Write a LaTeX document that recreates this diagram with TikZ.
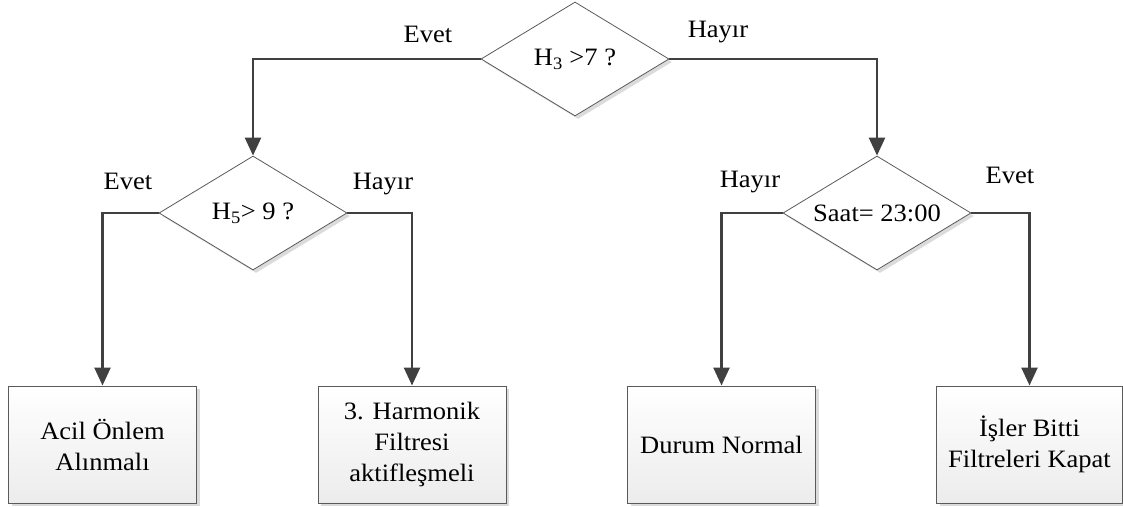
\documentclass[tikz,border=0pt]{standalone}
\usepackage{fontspec}
\setmainfont{Liberation Serif}[FakeStretch=1.06]
\usetikzlibrary{shapes.geometric,arrows.meta,shadows}
\definecolor{linegray}{HTML}{404040}
\definecolor{edgegray}{HTML}{5A5A5A}
\definecolor{boxshade}{HTML}{ECECEC}
\begin{document}
\begin{tikzpicture}[x=1pt,y=-1pt,
  every node/.style={font=\fontsize{25}{31}\selectfont},
  softshadow/.style={drop shadow={shadow xshift=3pt, shadow yshift=-3pt, shadow scale=1, fill=black!14, opacity=1}},
  decision/.style={diamond, draw=edgegray, line width=0.8pt, fill=white,
    aspect=1.65, inner sep=0pt, minimum width=188pt, minimum height=114pt, softshadow},
  outcome/.style={rectangle, draw=edgegray, line width=1pt, top color=white,
    bottom color=boxshade, minimum width=188pt, minimum height=117pt,
    align=center, inner sep=2pt, softshadow},
  flow/.style={draw=linegray, line width=2.6pt, line join=miter,
    -{Triangle[width=16pt,length=18pt]}},
  tag/.style={anchor=base, inner sep=0pt}
]
\useasboundingbox (0,0) rectangle (1123,506);

% decisions
\node[decision] (q0) at (575,59) {H\textsubscript{3} >7 ?};
\node[decision] (q1) at (253,213) {H\textsubscript{5}> 9 ?};
\node[decision] (q2) at (877,213) {Saat= 23:00};

% outcomes
\node[outcome] (r1) at (102.5,444.5) {Acil Önlem\\Alınmalı};
\node[outcome] (r2) at (412,444.5) {3. Harmonik\\Filtresi\\aktifleşmeli};
\node[outcome] (r3) at (721.5,444.5) {Durum Normal};
\node[outcome, minimum width=186pt] (r4) at (1029.5,444.5) {İşler Bitti\\Filtreleri Kapat};

% connectors
\draw[flow] (q0.west) -| (q1.north);
\draw[flow] (q0.east) -| (q2.north);
\draw[flow] (q1.west) -| (r1.north);
\draw[flow] (q1.east) -| (r2.north);
\draw[flow] (q2.west) -| (r3.north);
\draw[flow] (q2.east) -| (r4.north);

% branch labels
\node[tag] (y0) at (428,42) {Evet};
\node[tag] (n0) at (718,37) {Hayır};
\node[tag] (y1) at (128,189) {Evet};
\node[tag] (n1) at (383,189) {Hayır};
\node[tag] (n2) at (750,187) {Hayır};
\node[tag] (y2) at (1010,183) {Evet};
\end{tikzpicture}
\end{document}
